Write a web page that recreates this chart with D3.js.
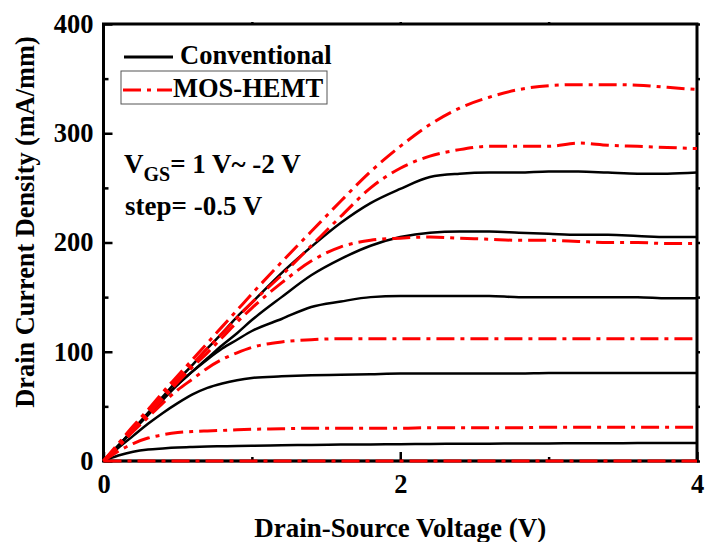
<!DOCTYPE html>
<html>
<head>
<meta charset="utf-8">
<script src="https://cdn.jsdelivr.net/npm/d3@7"></script>
<style>
  body { margin: 0; background: #fff; }
</style>
</head>
<body>
<div id="chart"></div>
<script>
// drain-source voltage points (V)
var vds = [0, 0.1, 0.2, 0.3, 0.4, 0.5, 0.6, 0.7, 0.8, 0.9, 1.0, 1.2, 1.4, 1.6, 1.8, 2.0, 2.2, 2.4, 2.6, 2.8, 3.0, 3.2, 3.4, 3.6, 3.8, 4.0];

// conventional HEMT, VGS = 1 V ... -2 V (mA/mm)
var conv1 = [0, 14, 29, 44, 59, 74, 88, 103, 117, 132, 145, 172, 196, 218, 236, 249, 260, 263, 264, 264, 265, 265, 264, 263, 263, 264];
var conv2 = [0, 14, 29, 43, 57, 70, 82, 94, 106, 117, 129, 150, 170, 185, 197, 205, 209, 210, 210, 209, 208, 207, 207, 206, 205, 205];
var conv3 = [0, 14, 28, 42, 56, 70, 82, 93, 103, 111, 119, 130, 141, 146, 150, 151, 151, 151, 151, 150, 150, 150, 150, 150, 149, 149];
var conv4 = [0, 12, 23, 34, 44, 53, 61, 67, 71, 74, 76, 77.5, 78.5, 79, 79.5, 80, 80, 80, 80, 80, 80.5, 80.5, 80.5, 80.5, 80.5, 80.5];
var conv5 = [0, 5, 8.5, 10.5, 11.5, 12.3, 12.8, 13.2, 13.5, 13.8, 14, 14.4, 14.7, 15, 15.2, 15.4, 15.6, 15.8, 15.9, 16, 16.1, 16.2, 16.3, 16.4, 16.5, 16.5];
var conv6 = [0, 0, 0, 0, 0, 0, 0, 0, 0, 0, 0, 0, 0, 0, 0, 0, 0, 0, 0, 0, 0, 0, 0, 0, 0, 0];

// MOS-HEMT, VGS = 1 V ... -2 V (mA/mm)
var mos1 = [0, 16, 32, 47, 63, 78, 93, 108, 123, 138, 153, 182, 210, 238, 265, 288, 308, 323, 333, 340, 343.5, 344.5, 344.5, 344, 342, 340];
var mos2 = [0, 15, 30, 45, 60, 75, 89, 103, 117, 131, 145, 170, 197, 224, 250, 268, 279, 285, 288, 288, 288, 291, 289, 288, 287, 286];
var mos3 = [0, 14, 29, 43, 57, 72, 86, 99, 113, 127, 140, 163, 183, 196, 202, 204, 205, 204, 203, 202, 202, 201, 200, 200, 199, 199];
var mos4 = [0, 13, 27, 40, 53, 65, 75, 85, 93, 99, 104, 109, 111, 112, 112, 112, 112, 112, 112, 112, 112, 112, 112, 112, 112, 112];
var mos5 = [0, 9, 16, 21, 24, 26, 27, 27.5, 28, 28.5, 29, 29.5, 30, 30, 30, 30, 30.5, 30.5, 30.5, 30.5, 31, 31, 31, 31, 31, 31];
var mos6 = [0, 0, 0, 0, 0, 0, 0, 0, 0, 0, 0, 0, 0, 0, 0, 0, 0, 0, 0, 0, 0, 0, 0, 0, 0, 0];

var convCurves = [conv1, conv2, conv3, conv4, conv5, conv6];
var mosCurves = [mos1, mos2, mos3, mos4, mos5, mos6];

// axis ticks
var xTicks = [0, 2, 4];
var xMinor = [1, 3];
var yTicks = [0, 100, 200, 300, 400];
var yMinor = [50, 150, 250, 350];

var serif = "'Liberation Serif', 'Times New Roman', Tinos, 'DejaVu Serif', serif";

// svg container
var svgWidth = 707;
var svgHeight = 542;
var plot = { left: 103.5, right: 697, top: 24, bottom: 461 };

var svg = d3.select("#chart").append("svg")
    .attr("width", svgWidth)
    .attr("height", svgHeight);

var xScale = d3.scaleLinear().domain([0, 4]).range([plot.left, plot.right]);
var yScale = d3.scaleLinear().domain([0, 400]).range([plot.bottom, plot.top]);

// axes: ticks point inward on left and bottom
svg.append("g")
    .attr("transform", `translate(0, ${plot.bottom})`)
    .call(d3.axisBottom(xScale).tickValues(xTicks).tickSizeInner(-9).tickSizeOuter(0).tickPadding(13).tickFormat(d3.format("d")));

svg.append("g")
    .attr("transform", `translate(0, ${plot.bottom})`)
    .call(d3.axisBottom(xScale).tickValues(xMinor).tickSize(-4).tickFormat(""));

svg.append("g")
    .attr("transform", `translate(${plot.left}, 0)`)
    .call(d3.axisLeft(yScale).tickValues(yTicks).tickSizeInner(-9).tickSizeOuter(0).tickPadding(10).tickFormat(d3.format("d")));

svg.append("g")
    .attr("transform", `translate(${plot.left}, 0)`)
    .call(d3.axisLeft(yScale).tickValues(yMinor).tickSize(-5).tickFormat(""));

// small outer ticks on right and top
svg.append("g")
    .attr("transform", `translate(${plot.right}, 0)`)
    .call(d3.axisRight(yScale).tickValues(yTicks.concat(yMinor)).tickSize(3).tickFormat(""));

svg.append("g")
    .attr("transform", `translate(0, ${plot.top})`)
    .call(d3.axisTop(xScale).tickValues([1, 2, 3]).tickSize(2).tickFormat(""));

svg.selectAll(".domain").attr("stroke", "none");
svg.selectAll(".tick line").attr("stroke", "#000").attr("stroke-width", 2.5);
svg.selectAll(".tick text")
    .attr("font-family", serif)
    .attr("font-weight", "bold")
    .attr("font-size", "26.5px")
    .attr("fill", "#000");

// plot frame
svg.append("rect")
    .attr("x", plot.left)
    .attr("y", plot.top)
    .attr("width", plot.right - plot.left)
    .attr("height", plot.bottom - plot.top)
    .attr("fill", "none")
    .attr("stroke", "#000")
    .attr("stroke-width", 3);

// curves
var line = d3.line()
    .x((d, i) => xScale(vds[i]))
    .y(d => yScale(d))
    .curve(d3.curveMonotoneX);

svg.append("g").selectAll("path").data(convCurves).enter()
    .append("path")
    .attr("d", line)
    .attr("fill", "none")
    .attr("stroke", "#000")
    .attr("stroke-width", 2.5);

svg.append("g").selectAll("path").data(mosCurves).enter()
    .append("path")
    .attr("d", line)
    .attr("fill", "none")
    .attr("stroke", "#ff0000")
    .attr("stroke-width", 3)
    .attr("stroke-dasharray", "18,6,4,6");

// text layer
var labels = svg.append("g")
    .attr("font-family", serif)
    .attr("font-weight", "bold")
    .attr("fill", "#000");

// legend
svg.append("line")
    .attr("x1", 124).attr("x2", 173).attr("y1", 57).attr("y2", 57)
    .attr("stroke", "#000").attr("stroke-width", 3);
labels.append("text")
    .attr("x", 180).attr("y", 64)
    .attr("font-size", "26.5px")
    .text("Conventional");

svg.append("rect")
    .attr("x", 121).attr("y", 71).attr("width", 206).attr("height", 33)
    .attr("fill", "none").attr("stroke", "#555").attr("stroke-width", 1);
svg.append("line")
    .attr("x1", 123).attr("x2", 172).attr("y1", 90).attr("y2", 90)
    .attr("stroke", "#ff0000").attr("stroke-width", 3)
    .attr("stroke-dasharray", "18,6,4,6");
labels.append("text")
    .attr("x", 173).attr("y", 97)
    .attr("font-size", "26.5px")
    .text("MOS-HEMT");

// annotation
var vgs = labels.append("text")
    .attr("x", 124).attr("y", 173)
    .attr("font-size", "27px");
vgs.append("tspan").text("V");
vgs.append("tspan").attr("font-size", "20px").attr("dy", 8).text("GS");
vgs.append("tspan").attr("dy", -8).text("= 1 V~ -2 V");

labels.append("text")
    .attr("x", 125).attr("y", 215)
    .attr("font-size", "27px")
    .text("step= -0.5 V");

// axis titles
labels.append("text")
    .attr("x", (plot.left + plot.right) / 2)
    .attr("y", 537)
    .attr("text-anchor", "middle")
    .attr("font-size", "27px")
    .text("Drain-Source Voltage (V)");

labels.append("text")
    .attr("transform", "translate(34, 222) rotate(-90)")
    .attr("text-anchor", "middle")
    .attr("font-size", "26.3px")
    .text("Drain Current Density (mA/mm)");
</script>
</body>
</html>
